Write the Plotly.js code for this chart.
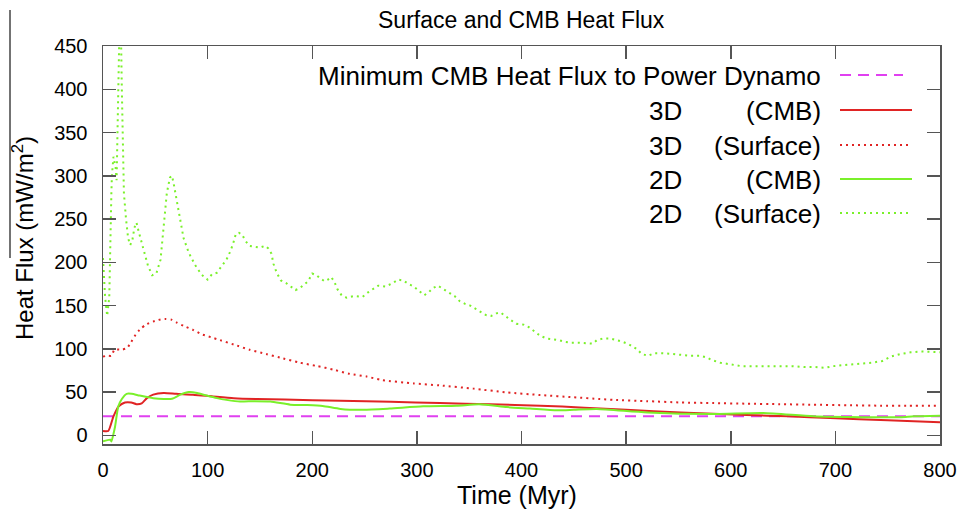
<!DOCTYPE html>
<html>
<head>
<meta charset="utf-8">
<script src="https://cdn.plot.ly/plotly-3.0.1.min.js"></script>
<style>html,body{margin:0;padding:0;background:#fff;}#chart{width:963px;height:509px;}</style>
</head>
<body>
<div id="chart"></div>
<script>
// ---- data ----
const minFluxX = [0, 800];
const minFluxY = [22, 22];

const cmb3dX = [0,5,10,15,21,27,32,37,42,48,58,70,86,105,125,147,200,227,275,322,370,418,460,500,552,615,655,695,750,800];
const cmb3dY = [5,5,22,33.5,38,38,36,37,43,47,49,48,47,45,43,42,40.7,40,38.7,37.3,35.8,34.3,32,29.5,26.5,23.5,22,20,17.5,15];

const surf3dX = [0,4,8,11,18,23,27,31,35,41,48,55,60,66,71,77,86,94,103,112,125,140,156,172,188,205,220,236,252,266,297,322,354,386,418,450,475,488,520,552,584,615,647,679,711,743,770,800];
const surf3dY = [91,92,92,99,99,101,108,116,122,128,131.5,134,134.5,133.5,130,126.5,122,117,113.5,110,105,99,94,89,84,80,76,71,68,64,60,57.7,54,49.6,46.6,44,42,41,39.5,38,37.3,36.6,36,35.4,34.8,34.3,34.3,34.3];

const cmb2dX = [0,7,8,11.5,14.6,18,22.6,27.4,35,48,58,66,74,82,90,99,109,118,131,145,160,179,195,210,227,249,274,306,338,360,386,408,434,450,472,520,584,631,679,727,762,775,800];
const cmb2dY = [-7,-5,-7,10,33.5,42,48,48,46,43,42,42.3,47,50,49,46,43,41,39,39.5,39,35.5,35,34,30.5,29.5,31,33.5,34.3,35.8,32.7,31,29,29.6,30.5,26.5,24.7,25.8,22,21,21,22,22.7];

const surf2dX = [0,2,4,6,8,8.5,10,12,13,15.5,16.5,18,19,20,22,24,26,28,30,32,34,37,40,43,47,51,55,58,61,64,66,68,71,74,77,82,88,94,100,104,109,113,118,121,124,127,130,133,136,140,145,150,155,158,161,163,166,170,175,180,184,188,192,196,200,204,208,212,215,218,221,224,228,233,240,248,253,258,263,270,277,282,287,292,297,302,307,311,315,320,325,330,336,341,346,351,356,361,366,371,376,380,385,390,395,402,407,413,418,424,430,436,442,448,455,462,468,472,478,485,491,497,503,510,515,521,527,535,545,552,561,571,577,582,590,600,610,620,630,640,650,660,670,680,690,698,706,715,725,735,745,753,762,772,782,792,800];
const surf2dY = [205,160,138,160,280,300,322,310,295,470,520,400,320,280,250,228,220,225,240,246,236,222,210,196,185,187,203,240,280,298,300,288,268,249,228,211,197,186,180,186,188,195,203,211,220,233,234,232,225,219,218,217,219,216,210,198,188,179,176,171,168,170,174,178,187,185,181,178,180,183,178,169,162,159,161,160,165,169,173,172,176,180,179,175,172,167,162,165,170,173,169,165,161,155,152,150,146,143,139,138,141,142,137,133,129,128,125,120,115,112,111,110,108,107,107,106,106,110,112,112,110,108,105,100,94,92,95,95,94,93,92,92,90,87,84,82,80,80,80,80,80,80,79,79,78,80,81,82,83,84,86,91,94,96,97,96,96];

const xTicks = [0,100,200,300,400,500,600,700,800];
const yTicks = [0,50,100,150,200,250,300,350,400,450];

const legendModel = ['', '3D', '3D', '2D', '2D'];
const legendKind = ['Minimum CMB Heat Flux to Power Dynamo', '(CMB)', '(Surface)', '(CMB)', '(Surface)'];

// ---- styling ----
const RED = '#e02424';
const GREEN = '#7af02a';
const MAGENTA = '#e040f0';
const FONT = 'Liberation Sans, Arial, sans-serif';

const styles = [
  {color: MAGENTA, width: 2, dash: '11px,7px'},
  {color: RED, width: 2, dash: 'solid'},
  {color: RED, width: 2, dash: '2px,4px'},
  {color: GREEN, width: 2, dash: 'solid'},
  {color: GREEN, width: 2, dash: '2px,4px'}
];
const series = [
  [minFluxX, minFluxY, 'linear'],
  [cmb3dX, cmb3dY, 'spline'],
  [surf3dX, surf3dY, 'spline'],
  [cmb2dX, cmb2dY, 'spline'],
  [surf2dX, surf2dY, 'linear']
];

const traces = series.map((s, i) => ({
  x: s[0], y: s[1], type: 'scatter', mode: 'lines',
  line: Object.assign({shape: s[2], smoothing: 0.6}, styles[i]),
  showlegend: false, hoverinfo: 'skip'
}));

// plot-area geometry in pixels (for legend placement in paper coords)
const L = 103, T = 46, W = 837, H = 398;
const px = v => (v - L) / W;
const py = v => (T + H - v) / H;

const rowY = [76, 111, 146, 180, 214];
const annotations = [];
const shapes = [];
rowY.forEach((yy, i) => {
  annotations.push({xref: 'paper', yref: 'paper', x: px(823), y: py(yy), xanchor: 'right', yanchor: 'middle',
    text: legendKind[i], showarrow: false, font: {family: FONT, size: 26, color: '#000'}});
  if (legendModel[i]) {
    annotations.push({xref: 'paper', yref: 'paper', x: px(684), y: py(yy), xanchor: 'right', yanchor: 'middle',
      text: legendModel[i], showarrow: false, font: {family: FONT, size: 26, color: '#000'}});
  }
  shapes.push({type: 'line', xref: 'paper', yref: 'paper', x0: px(840), x1: px(i === 0 ? 903 : 912), y0: py(yy - 1), y1: py(yy - 1),
    line: {color: styles[i].color, width: styles[i].width, dash: styles[i].dash}});
});
// stray rule at the far left of the original image
shapes.push({type: 'line', xref: 'paper', yref: 'paper', x0: px(10), x1: px(10), y0: py(10), y1: py(258),
  line: {color: '#444', width: 1.5}});

annotations.push({xref: 'paper', yref: 'paper', x: px(521), y: py(20), xanchor: 'center', yanchor: 'middle',
  text: 'Surface and CMB Heat Flux', showarrow: false, font: {family: FONT, size: 23, color: '#000'}});
annotations.push({xref: 'paper', yref: 'paper', x: px(517), y: py(495), xanchor: 'center', yanchor: 'middle',
  text: 'Time (Myr)', showarrow: false, font: {family: FONT, size: 25, color: '#000'}});
annotations.push({xref: 'paper', yref: 'paper', x: px(23), y: py(238), xanchor: 'center', yanchor: 'middle',
  textangle: -90, text: 'Heat Flux (mW/m<sup>2</sup>)', showarrow: false, font: {family: FONT, size: 24, color: '#000'}});

const axisCommon = {
  showgrid: false, zeroline: false, showline: true, linecolor: '#555', linewidth: 1.5,
  mirror: 'ticks', ticks: 'inside', ticklen: 13, tickwidth: 1.5, tickcolor: '#555',
  tickfont: {family: FONT, size: 20, color: '#000'}, tickmode: 'array'
};

const layout = {
  width: 963, height: 509,
  margin: {l: L, r: 963 - L - W, t: T, b: 509 - T - H, pad: 0},
  paper_bgcolor: '#fff', plot_bgcolor: '#fff',
  showlegend: false,
  xaxis: Object.assign({}, axisCommon, {range: [0, 800], tickvals: xTicks, ticktext: xTicks.map(String), ticklabelstandoff: 7}),
  yaxis: Object.assign({}, axisCommon, {range: [-10, 450], tickvals: yTicks, ticktext: yTicks.map(String), ticklabelstandoff: 10}),
  annotations: annotations,
  shapes: shapes
};

Plotly.newPlot('chart', traces, layout, {displayModeBar: false, staticPlot: true});
</script>
</body>
</html>
